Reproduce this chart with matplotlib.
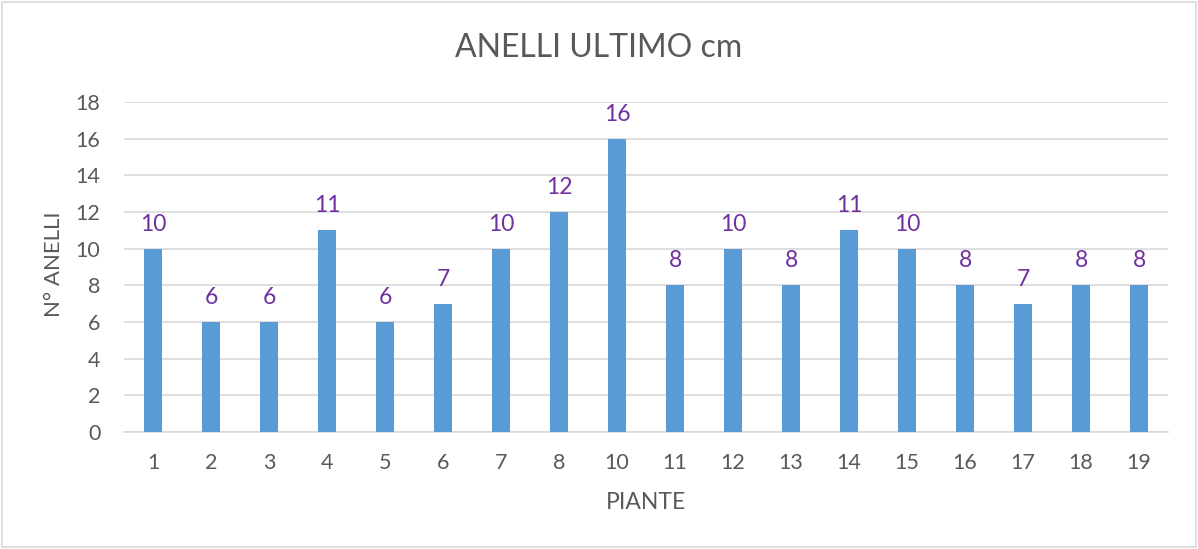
import numpy as np
import matplotlib.pyplot as plt

######################
piante = ['1', '2', '3', '4', '5', '6', '7', '8', '10', '11', '12', '13',
          '14', '15', '16', '17', '18', '19']
anelli = [10, 6, 6, 11, 6, 7, 10, 12, 16, 8, 10, 8, 11, 10, 8, 7, 8, 8]
yticks = [0, 2, 4, 6, 8, 10, 12, 14, 16, 18]
######################

BAR = '#5B9BD5'
TXT = '#595959'
LBL = '#7030A0'
GRID = '#D9D9D9'


def plot(fn='out.png'):
    plt.rcParams['font.family'] = ['Lato', 'DejaVu Sans']
    fig = plt.figure(figsize=(11.98, 5.49), dpi=100)
    ax = fig.add_axes([124 / 1198, 1 - 432 / 549, 1044 / 1198, 330 / 549])

    x = np.arange(len(piante))
    bars = ax.bar(x, anelli, width=0.31, color=BAR, zorder=3)
    for b, v in zip(bars, anelli):
        ax.annotate(str(v), (b.get_x() + b.get_width() / 2, v),
                    xytext=(0, 10), textcoords='offset points',
                    ha='center', va='bottom', color=LBL, fontsize=16.5)

    ax.set_xlim(-0.5, len(piante) - 0.5)
    ax.set_ylim(0, 18)
    ax.set_yticks(yticks)
    ax.set_xticks(x)
    ax.set_xticklabels(piante)
    ax.grid(axis='y', color=GRID, linewidth=1.2, zorder=0)
    for s in ['top', 'right', 'left']:
        ax.spines[s].set_visible(False)
    ax.spines['bottom'].set_color(GRID)
    ax.spines['bottom'].set_linewidth(1.2)
    ax.tick_params(length=0, labelsize=15.5, labelcolor=TXT)
    ax.tick_params(axis='y', pad=17)
    ax.tick_params(axis='x', pad=15)

    fig.text(0.5, 1 - 48 / 549, 'ANELLI ULTIMO cm', color=TXT, fontsize=23,
             ha='center', va='center')
    ax.set_ylabel('N° ANELLI', color=TXT, fontsize=16)
    ax.yaxis.set_label_coords((64 - 124) / 1044, (432 - 264) / 330)
    ax.set_xlabel('PIANTE', color=TXT, fontsize=16.5, labelpad=14)

    fig.patches.append(plt.Rectangle((0.002, 0.003), 0.996, 0.994,
                                     transform=fig.transFigure, fill=False,
                                     edgecolor=GRID, linewidth=1.2))
    fig.savefig(fn, dpi=100)


if __name__ == "__main__":
    plot()
